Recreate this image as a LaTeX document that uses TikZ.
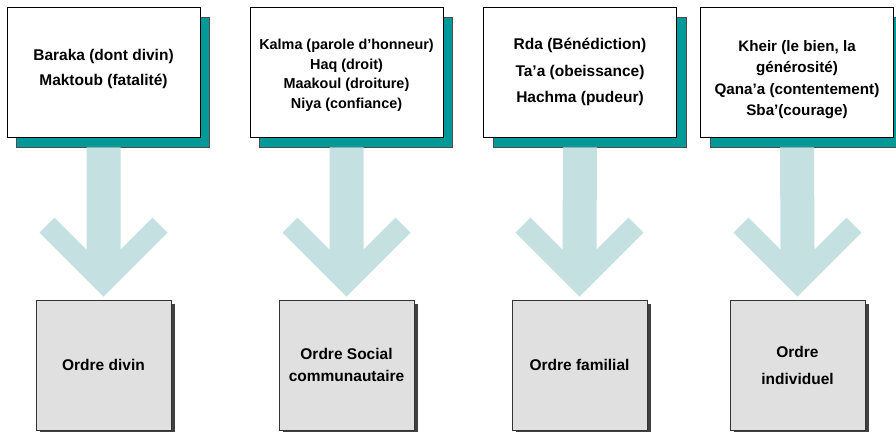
\documentclass[tikz,border=0pt]{standalone}
\usepackage{fontspec}
\setmainfont{Liberation Sans}
\usetikzlibrary{calc,shadows}
\definecolor{tealsh}{RGB}{0,153,153}
\definecolor{flechec}{RGB}{197,224,224}
\definecolor{ordrefill}{RGB}{224,224,224}
\definecolor{ordresh}{RGB}{64,64,64}
\tikzset{>=stealth,
  valeur/.style={draw=black,fill=white,line width=0.8pt,
    minimum width=193pt,minimum height=130pt,align=center,
    font=\bfseries\fontsize{15.5}{25}\selectfont,
    drop shadow={shadow xshift=9.5pt,shadow yshift=-10pt,
      fill=tealsh,draw=black!70,line width=0.8pt,opacity=1}},
  ordre/.style={draw=black!80,fill=ordrefill,line width=0.8pt,
    minimum width=135pt,minimum height=130pt,align=center,
    font=\bfseries\fontsize{15.5}{22}\selectfont,
    drop shadow={shadow xshift=4pt,shadow yshift=-4pt,
      fill=ordresh,draw=none,opacity=1}},
  fleche/.style={fill=flechec,draw=none}
}

\begin{document}
\begin{tikzpicture}[x=1pt,y=-1pt]
\useasboundingbox (0,0) rectangle (896,431);
% valeurs
\node[valeur] (v1) at (103.5,72)
  {Baraka (dont divin)\\Maktoub (fatalité)\rule[-8.3pt]{0pt}{0pt}};
\node[valeur,font=\bfseries\fontsize{14.4}{19.5}\selectfont] (v2) at (346.5,72)
  {\rule{0pt}{16.5pt}Kalma (parole d’honneur)\\Haq (droit)\\Maakoul (droiture)\\Niya (confiance)};
\node[valeur,font=\bfseries\fontsize{15.5}{26.5}\selectfont] (v3) at (580,72)
  {Rda (Bénédiction)\\Ta’a (obeissance)\\Hachma (pudeur)};
\node[valeur,font=\bfseries\fontsize{15.2}{21.5}\selectfont] (v4) at (797,72)
  {\rule{0pt}{26pt}Kheir (le bien, la\\générosité)\\Qana’a (contentement)\\Sba’(courage)};
% ordres
\node[ordre] (o1) at (103.5,365) {Ordre divin};
\node[ordre] (o2) at (346.5,365) {Ordre Social\\communautaire};
\node[ordre] (o3) at (579.5,365) {Ordre familial};
\node[ordre,font=\bfseries\fontsize{15.5}{27}\selectfont] (o4) at (797.5,365) {Ordre\\individuel};
% fleches
\fill[fleche] ([yshift=3pt]o1.north) -- ([xshift=-64pt,yshift=67pt]o1.north) --
  ([xshift=-49pt,yshift=82pt]o1.north) -- ([xshift=-17pt,yshift=50pt]o1.north) --
  ([xshift=-17pt,yshift=-10pt]v1.south) -- ([xshift=17pt,yshift=-10pt]v1.south) --
  ([xshift=17pt,yshift=50pt]o1.north) -- ([xshift=49pt,yshift=82pt]o1.north) --
  ([xshift=64pt,yshift=67pt]o1.north) -- cycle;
\fill[fleche] ([yshift=3pt]o2.north) -- ([xshift=-64pt,yshift=67pt]o2.north) --
  ([xshift=-49pt,yshift=82pt]o2.north) -- ([xshift=-17pt,yshift=50pt]o2.north) --
  ([xshift=-17pt,yshift=-10pt]v2.south) -- ([xshift=17pt,yshift=-10pt]v2.south) --
  ([xshift=17pt,yshift=50pt]o2.north) -- ([xshift=49pt,yshift=82pt]o2.north) --
  ([xshift=64pt,yshift=67pt]o2.north) -- cycle;
\fill[fleche] ([yshift=3pt]o3.north) -- ([xshift=-64pt,yshift=67pt]o3.north) --
  ([xshift=-49pt,yshift=82pt]o3.north) -- ([xshift=-17pt,yshift=50pt]o3.north) --
  ([xshift=-17pt,yshift=-10pt]v3.south) -- ([xshift=17pt,yshift=-10pt]v3.south) --
  ([xshift=17pt,yshift=50pt]o3.north) -- ([xshift=49pt,yshift=82pt]o3.north) --
  ([xshift=64pt,yshift=67pt]o3.north) -- cycle;
\fill[fleche] ([yshift=3pt]o4.north) -- ([xshift=-64pt,yshift=67pt]o4.north) --
  ([xshift=-49pt,yshift=82pt]o4.north) -- ([xshift=-17pt,yshift=50pt]o4.north) --
  ([xshift=-17pt,yshift=-10pt]v4.south) -- ([xshift=17pt,yshift=-10pt]v4.south) --
  ([xshift=17pt,yshift=50pt]o4.north) -- ([xshift=49pt,yshift=82pt]o4.north) --
  ([xshift=64pt,yshift=67pt]o4.north) -- cycle;
\end{tikzpicture}
\end{document}
